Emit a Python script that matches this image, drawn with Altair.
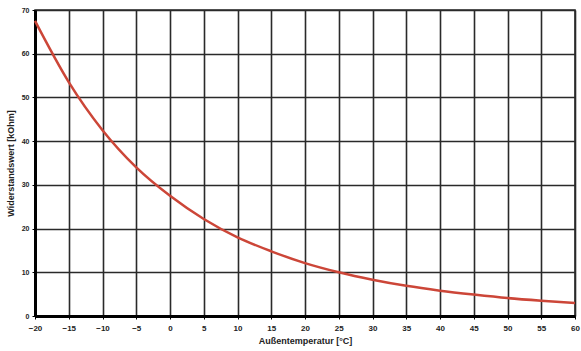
import altair as alt
import pandas as pd

temps = [-20, -15, -10, -5, 0, 5, 10, 15, 20, 25, 30, 35, 40, 45, 50, 55, 60]
resist = [67.5, 53.5, 42.5, 34.0, 27.5, 22.2, 18.0, 14.8, 12.1, 10.0, 8.3, 6.9, 5.8, 4.9, 4.1, 3.5, 3.0]

df = pd.DataFrame({"t": temps, "r": resist})

x_ticks = list(range(-20, 61, 5))
y_ticks = list(range(0, 71, 10))

line = alt.Chart(df).mark_line(color="#cc4638", strokeWidth=2.5, interpolate="monotone").encode(
    x=alt.X("t:Q", scale=alt.Scale(domain=[-20, 60], nice=False, zero=False),
            axis=alt.Axis(values=x_ticks, title="Außentemperatur [°C]", grid=True,
                          gridColor="#2a2a2a", gridWidth=1.6, domainColor="#000000",
                          domainWidth=3, tickColor="#000000", tickSize=3,
                          labelFlush=False, labelOverlap=False,
                          labelFont="Liberation Sans", labelFontSize=8, labelFontWeight="bold",
                          labelColor="#222222", labelPadding=5,
                          titleFont="Liberation Sans", titleFontSize=9, titleFontWeight="bold",
                          titleColor="#222222", titlePadding=4)),
    y=alt.Y("r:Q", scale=alt.Scale(domain=[0, 70], nice=False),
            axis=alt.Axis(values=y_ticks, title="Widerstandswert [kOhm]", grid=True,
                          gridColor="#2a2a2a", gridWidth=1.6, domainColor="#000000",
                          domainWidth=3, tickColor="#000000", tickSize=3,
                          labelFlush=False, labelOverlap=False,
                          labelFont="Liberation Sans", labelFontSize=7, labelFontWeight="bold",
                          labelColor="#222222", labelPadding=3,
                          titleFont="Liberation Sans", titleFontSize=9, titleFontWeight="bold",
                          titleColor="#222222", titlePadding=6)),
)

chart = line.properties(
    width=540, height=306,
    autosize=alt.AutoSizeParams(type="none"),
    padding={"left": 35, "top": 10, "right": 6, "bottom": 35},
    background="#ffffff",
).configure_view(stroke="#2a2a2a", strokeWidth=1.6)

chart.save("out.html", embed_options={"renderer": "svg", "actions": False})
